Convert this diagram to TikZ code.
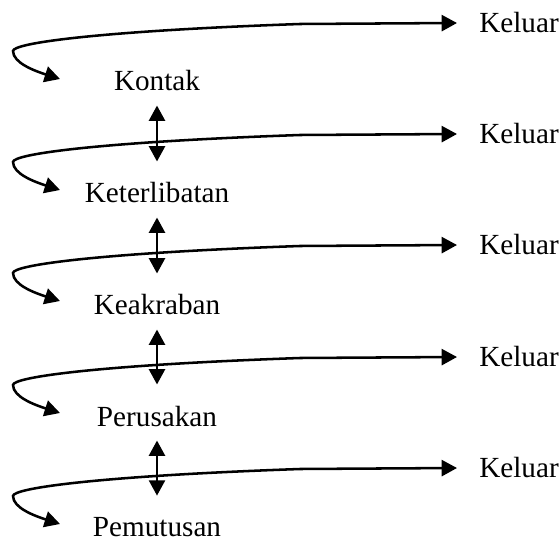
\documentclass[tikz,border=0pt]{standalone}
\usepackage{fontspec}
\setmainfont{Liberation Serif}
\usetikzlibrary{arrows.meta}

\tikzset{every picture/.style={line width=1.9pt}}
\tikzset{
  stage/.style={anchor=base,inner sep=0pt,font=\fontsize{21.9}{26}\selectfont},
  exitlabel/.style={anchor=west,inner xsep=15.75pt,inner ysep=0pt,font=\fontsize{21.9}{26}\selectfont},
  headtip/.style={{Triangle[length=11.5pt,width=12pt]}-{Triangle[length=11.5pt,width=12pt]}},
  updown/.style={headtip,shorten <=9.75pt,shorten >=15pt}
}

\begin{document}
\begin{tikzpicture}[x=0.75pt,y=0.75pt,yscale=-1,xscale=1]
\useasboundingbox (0,0) rectangle (560,541);

% Text Node
\node [stage] (kontak) at (157,91) {Kontak};
% Text Node
\node [stage] (libat) at (157,203) {Keterlibatan};
% Text Node
\node [stage] (akrab) at (157,315) {Keakraban};
% Text Node
\node [stage] (rusak) at (157,426) {Perusakan};
% Text Node
\node [stage] (putus) at (157,536) {Pemutusan};

% Text Node
\node [exitlabel] (out1) at (457,23) {Keluar};
% Text Node
\node [exitlabel] (out2) at (457,134) {Keluar};
% Text Node
\node [exitlabel] (out3) at (457,245) {Keluar};
% Text Node
\node [exitlabel] (out4) at (457,357) {Keluar};
% Text Node
\node [exitlabel] (out5) at (457,468) {Keluar};

%Tip points
\coordinate (in1) at (60,79);
\coordinate (in2) at (60,190);
\coordinate (in3) at (60,301);
\coordinate (in4) at (60,413);
\coordinate (in5) at (60,524);

%Curve Lines
\draw [headtip] (in1) .. controls (35,71) and (13,63) .. (13,51) .. controls (13,43) and (100,31) .. (300,24) -- (out1.west) ;
%Curve Lines
\draw [headtip] (in2) .. controls (35,182) and (13,174) .. (13,162) .. controls (13,154) and (100,142) .. (300,135) -- (out2.west) ;
%Curve Lines
\draw [headtip] (in3) .. controls (35,293) and (13,285) .. (13,273) .. controls (13,265) and (100,253) .. (300,246) -- (out3.west) ;
%Curve Lines
\draw [headtip] (in4) .. controls (35,405) and (13,397) .. (13,385) .. controls (13,377) and (100,365) .. (300,358) -- (out4.west) ;
%Curve Lines
\draw [headtip] (in5) .. controls (35,516) and (13,508) .. (13,496) .. controls (13,488) and (100,476) .. (300,469) -- (out5.west) ;

%Straight Lines
\draw [updown] (kontak.south) -- (libat.north) ;
%Straight Lines
\draw [updown] (libat.south) -- (akrab.north) ;
%Straight Lines
\draw [updown] (akrab.south) -- (rusak.north) ;
%Straight Lines
\draw [updown] (rusak.south) -- (putus.north) ;

\end{tikzpicture}
\end{document}
